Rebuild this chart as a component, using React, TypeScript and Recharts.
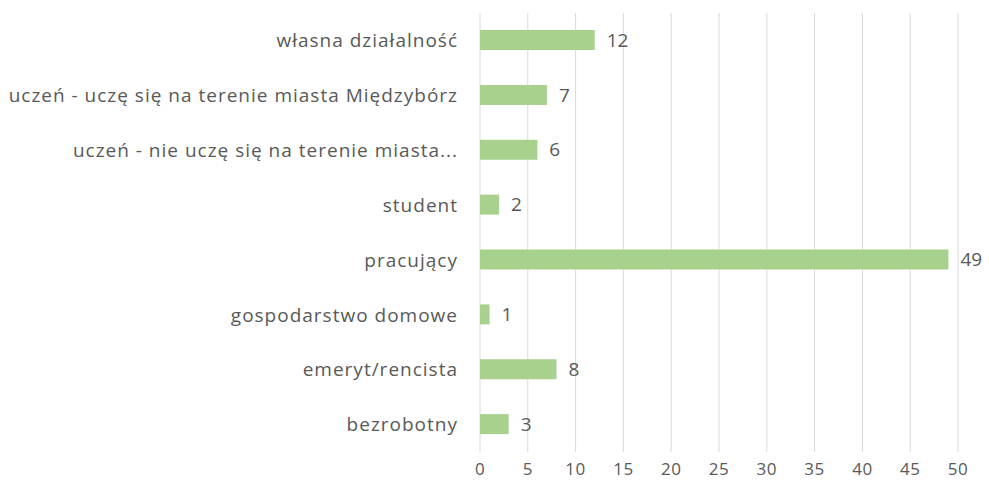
import { BarChart, Bar, XAxis, YAxis, CartesianGrid, LabelList } from 'recharts'

const kategorie = [
  'własna działalność',
  'uczeń - uczę się na terenie miasta Międzybórz',
  'uczeń - nie uczę się na terenie miasta...',
  'student',
  'pracujący',
  'gospodarstwo domowe',
  'emeryt/rencista',
  'bezrobotny',
]

const wartosci = [12, 7, 6, 2, 49, 1, 8, 3]

const tickiX = [0, 5, 10, 15, 20, 25, 30, 35, 40, 45, 50]

const dane = kategorie.map((nazwa, i) => ({ nazwa, valor: wartosci[i] }))

const kolorTekstu = '#595959'
const czcionka = '"Open Sans", "DejaVu Sans", sans-serif'

export default function App() {
  return (
    <div style={{ position: 'absolute', left: 0, top: 0, width: 989, height: 490, background: '#fff' }}>
      <BarChart
        width={989}
        height={490}
        data={dane}
        layout="vertical"
        margin={{ top: 13, right: 31, left: 0, bottom: 0 }}
        barSize={20}
      >
        <CartesianGrid horizontal={false} stroke="#d9d9d9" />
        <XAxis
          type="number"
          domain={[0, 50]}
          ticks={tickiX}
          axisLine={false}
          tickLine={false}
          tickSize={0}
          tickMargin={11}
          height={38}
          tick={{ fill: kolorTekstu, fontSize: 17, fontFamily: czcionka, letterSpacing: 0.5 }}
        />
        <YAxis
          type="category"
          dataKey="nazwa"
          width={480}
          axisLine={false}
          tickLine={false}
          tickSize={0}
          tickMargin={22}
          interval={0}
          tick={{ fill: kolorTekstu, fontSize: 19, fontFamily: czcionka, letterSpacing: 1 }}
        />
        <Bar dataKey="valor" fill="#a9d18e" isAnimationActive={false}>
          <LabelList
            dataKey="valor"
            position="right"
            offset={12}
            fill={kolorTekstu}
            fontSize={19}
            fontFamily={czcionka}
          />
        </Bar>
      </BarChart>
    </div>
  )
}
